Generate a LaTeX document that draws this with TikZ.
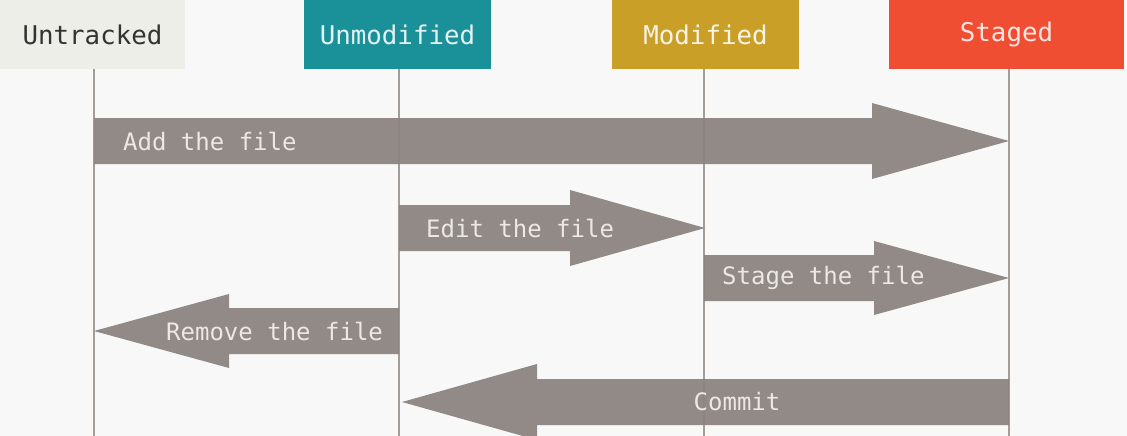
\documentclass[tikz,border=0pt]{standalone}
\usepackage{fontspec}
\setmonofont{DejaVu Sans Mono}
\begin{document}
\begin{tikzpicture}[x=1pt,y=-1pt,
  hdr/.style={anchor=north west,inner sep=0pt,outer sep=0pt,font=\ttfamily\fontsize{25.8}{30}\selectfont},
  lane/.style={draw=lanegray,line width=2pt},
  arr/.style={fill=arrgray,fill opacity=0.94,draw=none},
  lbl/.style={inner sep=0pt,font=\ttfamily\fontsize{24}{28}\selectfont,text=lbltext}]
\definecolor{bg}{HTML}{F8F8F8}
\definecolor{untr}{HTML}{EEEEE8}
\definecolor{teal}{HTML}{1A9098}
\definecolor{gold}{HTML}{C99F27}
\definecolor{stred}{HTML}{F04E33}
\definecolor{lanegray}{HTML}{A29D99}
\definecolor{arrgray}{HTML}{8B8480}
\definecolor{lbltext}{HTML}{ECE8E4}
\useasboundingbox (0,0) rectangle (1127,436);
\fill[bg] (0,0) rectangle (1127,436);
% headers
\node[hdr,fill=untr,minimum width=185pt,minimum height=69pt,text=black!80] (untracked) at (0,0) {Untracked};
\node[hdr,fill=teal,minimum width=187pt,minimum height=69pt,text=white!88!teal] (unmodified) at (304,0) {Unmodified};
\node[hdr,fill=gold,minimum width=187pt,minimum height=69pt,text=white!88!gold] (modified) at (612,0) {Modified};
\node[hdr,fill=stred,minimum width=235pt,minimum height=69pt,text=white!85!stred] (staged) at (889,0) {Staged};
% lane coordinates
\coordinate (uT) at (94,69);  \coordinate (uB) at (94,436);
\coordinate (mT) at (399,69); \coordinate (mB) at (399,436);
\coordinate (dT) at (704,69); \coordinate (dB) at (704,436);
\coordinate (sT) at (1009,69);\coordinate (sB) at (1009,436);
% lanes
\draw[lane] (uT) -- (uB);
\draw[lane] (mT) -- (mB);
\draw[lane] (dT) -- (dB);
\draw[lane] (sT) -- (sB);
% arrows
\fill[arr] (94,118) -- (872,118) -- (872,103) -- (1009,141) -- (872,179) -- (872,164) -- (94,164) -- cycle;
\fill[arr] (399,205) -- (570,205) -- (570,190) -- (705,228) -- (570,266) -- (570,251) -- (399,251) -- cycle;
\fill[arr] (704,255) -- (874,255) -- (874,241) -- (1009,278) -- (874,315) -- (874,301) -- (704,301) -- cycle;
\fill[arr] (399,308) -- (229,308) -- (229,294) -- (94,331) -- (229,368) -- (229,354) -- (399,354) -- cycle;
\fill[arr] (1009,379) -- (537,379) -- (537,364) -- (402,402) -- (537,440) -- (537,425) -- (1009,425) -- cycle;
% labels
\node[lbl,anchor=west] (add) at (123,141) {Add the file};
\node[lbl,anchor=west] (edit) at (426,228) {Edit the file};
\node[lbl,anchor=west] (stage) at (722,278) {Stage the file};
\node[lbl,anchor=west] (remove) at (166,331) {Remove the file};
\node[lbl] (commit) at (737,402) {Commit};
\end{tikzpicture}
\end{document}
